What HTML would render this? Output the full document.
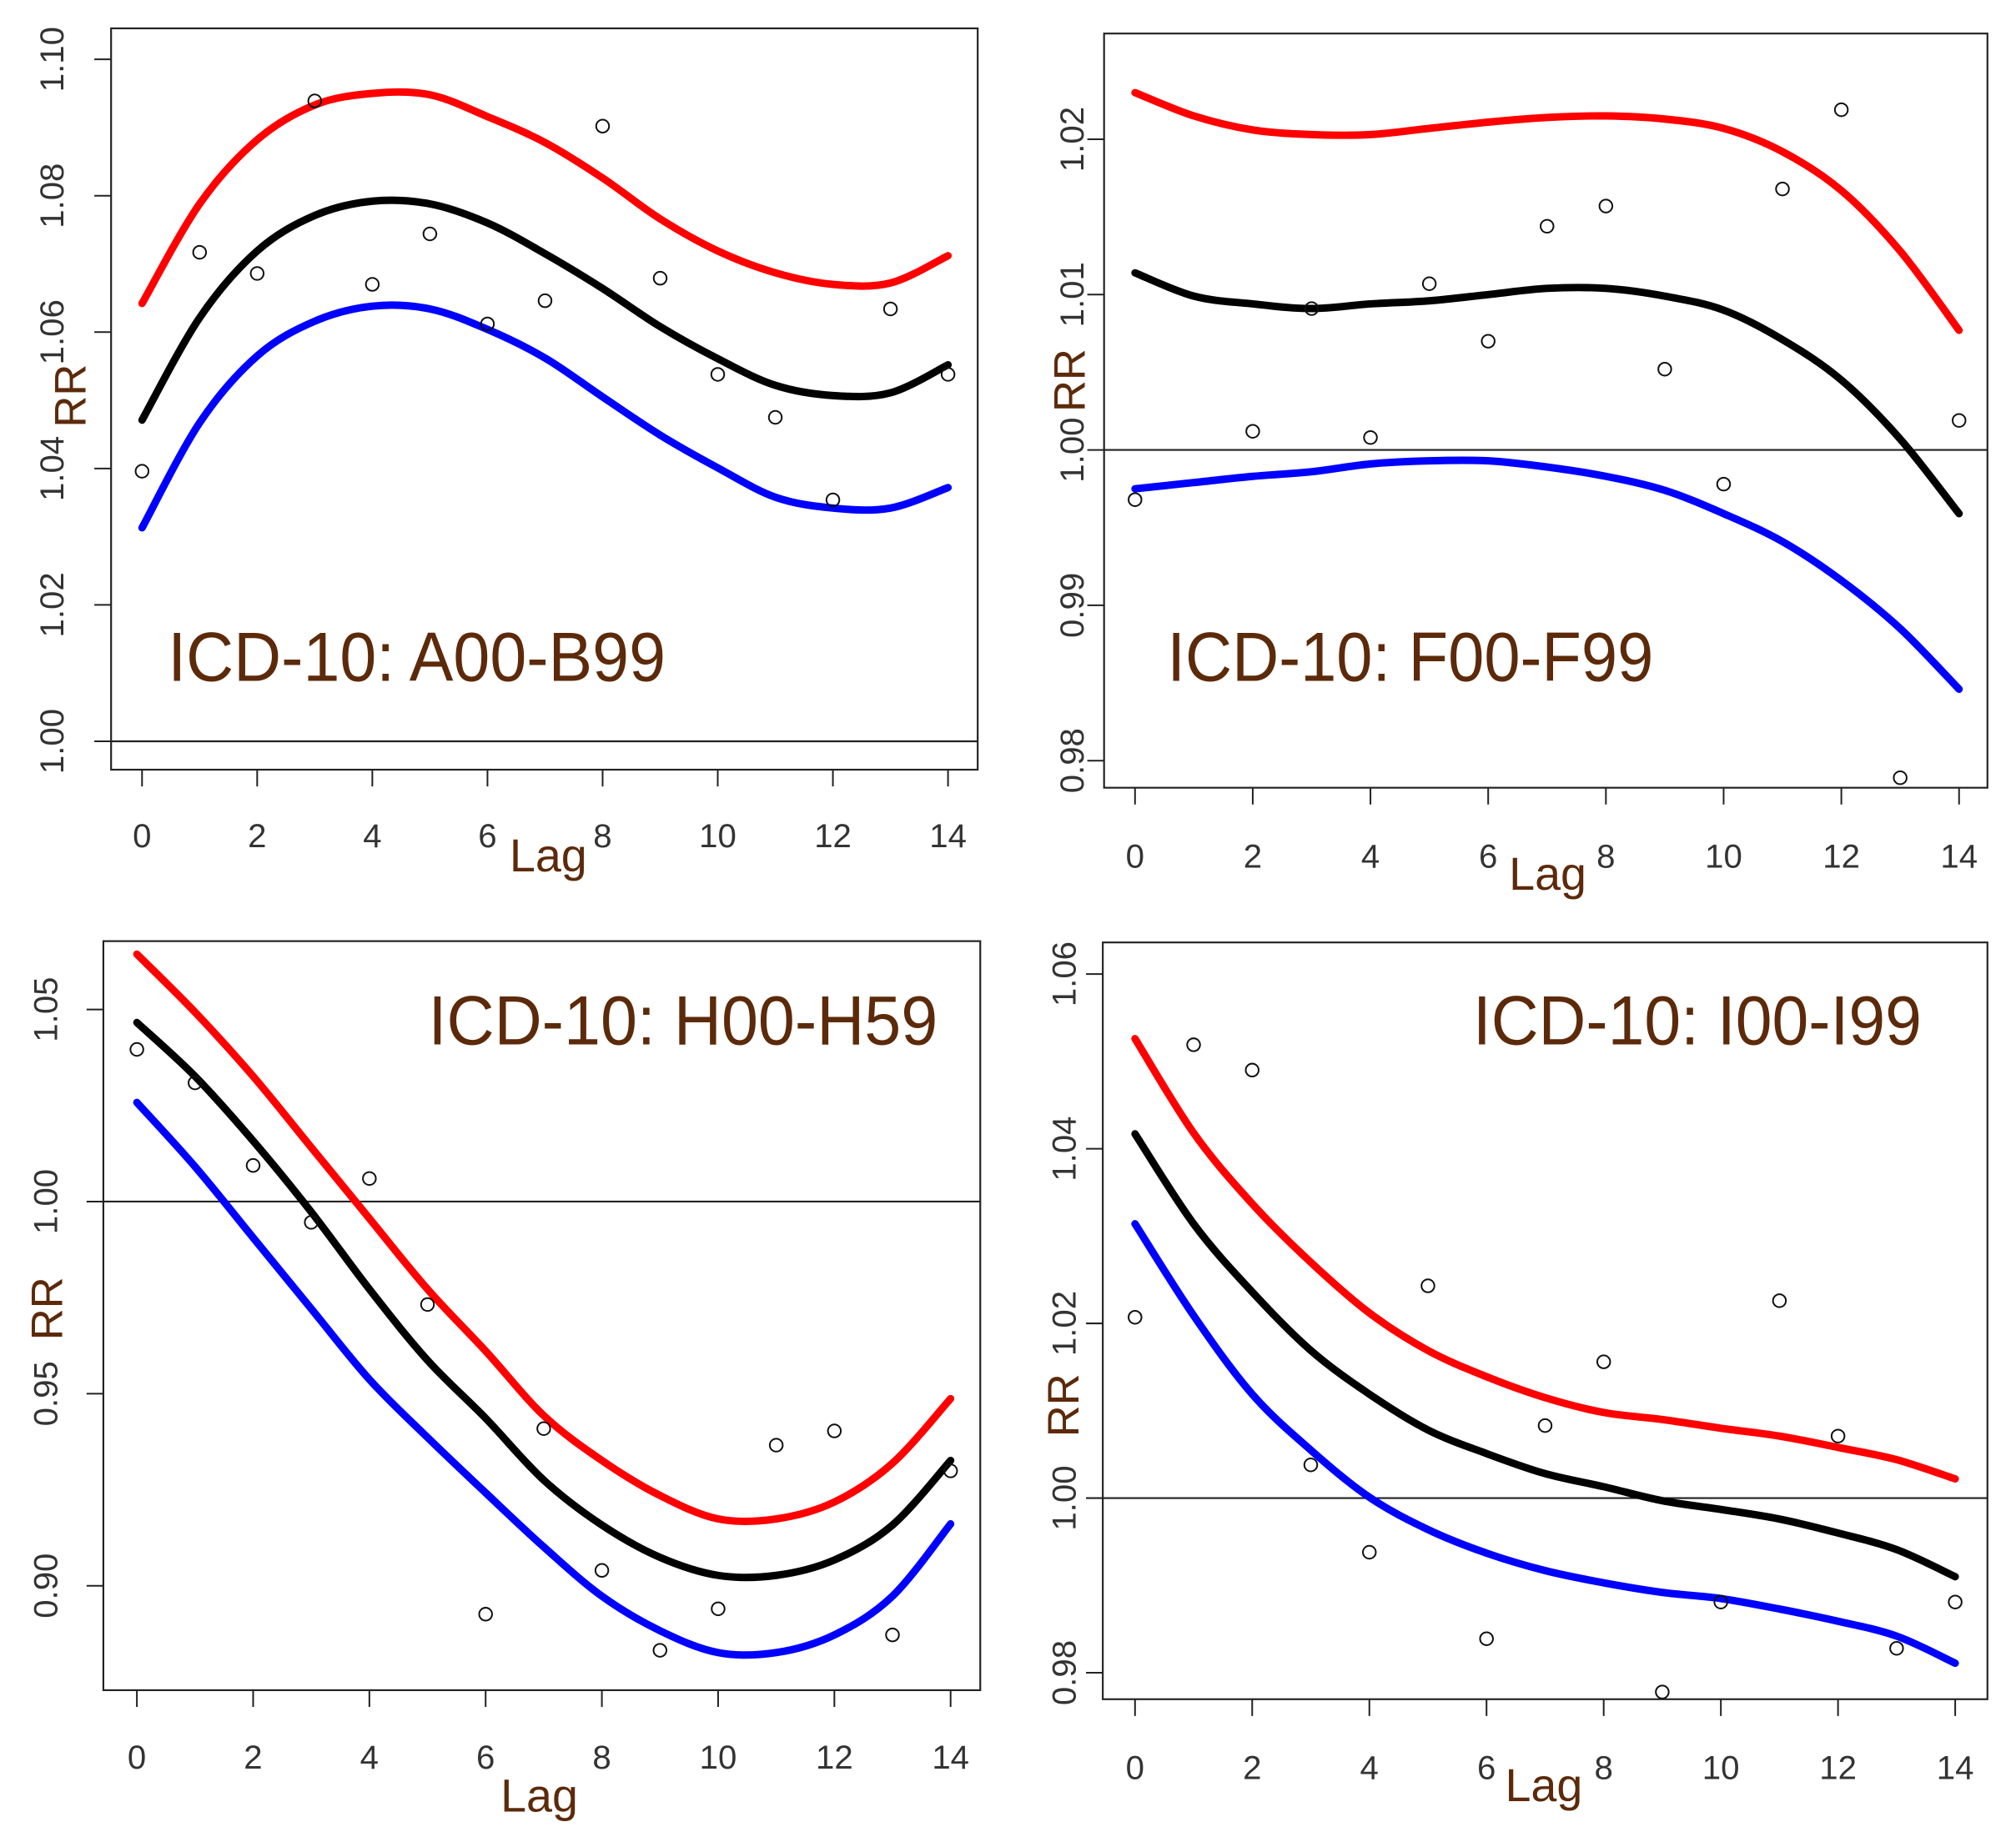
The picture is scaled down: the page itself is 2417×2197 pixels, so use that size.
<!DOCTYPE html>
<html><head><meta charset="utf-8"><style>
html,body{margin:0;padding:0;background:#fff;}
svg{display:block;}
</style></head>
<body>
<svg id="chart" width="2417" height="2197" viewBox="0 0 1563 1421" xmlns="http://www.w3.org/2000/svg"></svg>
<script>
const lags = [0,1,2,3,4,5,6,7,8,9,10,11,12,13,14];

const aTicks = [1.00,1.02,1.04,1.06,1.08,1.10];
const aRed = [1.0642,1.0788,1.0882,1.0933,1.0950,1.0948,1.0916,1.0878,1.0826,1.0766,1.0719,1.0687,1.0670,1.0672,1.0712];
const aBlack = [1.0471,1.0621,1.0719,1.0771,1.0792,1.0788,1.0760,1.0715,1.0664,1.0608,1.0561,1.0522,1.0507,1.0511,1.0552];
const aBlue = [1.0313,1.0467,1.0565,1.0616,1.0638,1.0634,1.0604,1.0562,1.0505,1.0449,1.0401,1.0358,1.0342,1.0342,1.0372];
const aPts = [1.0396,1.0717,1.0686,1.0939,1.0670,1.0744,1.0612,1.0646,1.0902,1.0679,1.0538,1.0475,1.0354,1.0634,1.0538];

const bTicks = [0.98,0.99,1.00,1.01,1.02];
const bRed = [1.0230,1.0215,1.0206,1.0203,1.0203,1.0207,1.0211,1.0214,1.0215,1.0213,1.0207,1.0192,1.0167,1.0128,1.0077];
const bBlack = [1.0114,1.0099,1.0094,1.0091,1.0094,1.0096,1.0100,1.0104,1.0104,1.0099,1.0090,1.0071,1.0045,1.0007,0.9959];
const bBlue = [0.9975,0.9979,0.9983,0.9986,0.9991,0.9993,0.9993,0.9989,0.9983,0.9974,0.9959,0.9941,0.9916,0.9885,0.9846];
const bPts = [0.9968,null,1.0012,1.0091,1.0008,1.0107,1.0070,1.0144,1.0157,1.0052,0.9978,1.0168,1.0219,0.9789,1.0019];

const cTicks = [0.90,0.95,1.00,1.05];
const cRed = [1.0644,1.0493,1.0326,1.0141,0.9956,0.9772,0.9611,0.9443,0.9326,0.9235,0.9174,0.9174,0.9218,0.9319,0.9487];
const cBlack = [1.0466,1.0326,1.0158,0.9973,0.9772,0.9587,0.9436,0.9275,0.9158,0.9074,0.9027,0.9027,0.9067,0.9158,0.9326];
const cBlue = [1.0258,1.0091,0.9906,0.9721,0.9537,0.9386,0.9242,0.9101,0.8973,0.8883,0.8826,0.8826,0.8872,0.8973,0.9161];
const cPts = [1.0396,1.0309,1.0094,0.9946,1.0060,0.9732,0.8926,0.9409,0.9040,0.8832,0.8940,0.9366,0.9403,0.8872,0.9299];

const dTicks = [0.98,1.00,1.02,1.04,1.06];
const dRed = [1.0526,1.0418,1.0337,1.0270,1.0212,1.0169,1.0139,1.0115,1.0098,1.0090,1.0080,1.0071,1.0058,1.0044,1.0022];
const dBlack = [1.0417,1.0314,1.0236,1.0169,1.0119,1.0078,1.0051,1.0028,1.0013,0.9997,0.9987,0.9976,0.9960,0.9941,0.9910];
const dBlue = [1.0314,1.0209,1.0119,1.0055,1.0001,0.9964,0.9937,0.9917,0.9903,0.9892,0.9885,0.9873,0.9859,0.9842,0.9811];
const dPts = [1.0207,1.0519,1.0490,1.0038,0.9938,1.0243,0.9839,1.0083,1.0156,0.9778,0.9881,1.0226,1.0071,0.9828,0.9881];

const xTickVals = [0,2,4,6,8,10,12,14];
const NS = 'http://www.w3.org/2000/svg';
const svg = document.getElementById('chart');

function mk(tag, attrs, parent){
  const e = document.createElementNS(NS, tag);
  for (const k in attrs) e.setAttribute(k, attrs[k]);
  (parent||svg).appendChild(e);
  return e;
}

function smoothPath(pts){
  let d = 'M' + pts[0][0].toFixed(2) + ',' + pts[0][1].toFixed(2);
  for (let i=0;i<pts.length-1;i++){
    const p0 = pts[Math.max(0,i-1)], p1 = pts[i], p2 = pts[i+1], p3 = pts[Math.min(pts.length-1,i+2)];
    const c1x = p1[0]+(p2[0]-p0[0])/6, c1y = p1[1]+(p2[1]-p0[1])/6;
    const c2x = p2[0]-(p3[0]-p1[0])/6, c2y = p2[1]-(p3[1]-p1[1])/6;
    d += ' C'+c1x.toFixed(2)+','+c1y.toFixed(2)+' '+c2x.toFixed(2)+','+c2y.toFixed(2)+' '+p2[0].toFixed(2)+','+p2[1].toFixed(2);
  }
  return d;
}

function panel(cfg){
  const g = mk('g', {});
  
  
  const xs = v => cfg.x0 + (v-0)/(14-0)*(cfg.x14-cfg.x0);
  const ys = v => cfg.yRef + (cfg.refVal - v)*cfg.pxPerUnit;

  const box = mk('rect', {x:cfg.bx1, y:cfg.by1, width:cfg.bx2-cfg.bx1, height:cfg.by2-cfg.by1, fill:'none', stroke:'#222', 'stroke-width':1.4}, g);
  
  

  const ref = mk('line', {x1:cfg.bx1, x2:cfg.bx2, y1:ys(1.0), y2:ys(1.0), stroke:'#222', 'stroke-width':1.4}, g);
  
  

  xTickVals.forEach(v=>{
    const t = mk('line', {x1:xs(v), x2:xs(v), y1:cfg.by2, y2:cfg.by2+13, stroke:'#222', 'stroke-width':1.3}, g);
    
    
    const l = mk('text', {x:xs(v), y:cfg.xLabY, 'text-anchor':'middle', 'font-size':26, fill:'#333', 'font-family':'Liberation Sans, sans-serif'}, g);
    l.textContent = String(v);
    
    
  });
  cfg.ticks.forEach(v=>{
    const y = ys(v);
    const t = mk('line', {x1:cfg.bx1-13, x2:cfg.bx1, y1:y, y2:y, stroke:'#222', 'stroke-width':1.3}, g);
    
    
    const l = mk('text', {x:0, y:0, 'text-anchor':'middle', 'font-size':26, fill:'#333', 'font-family':'Liberation Sans, sans-serif',
      transform:'translate('+(cfg.yLabX)+','+y+') rotate(-90)'}, g);
    l.textContent = v.toFixed(2);
    
    
  });

  const lag = mk('text', {x:cfg.lagX, y:cfg.lagY, 'text-anchor':'middle', 'font-size':36, fill:'#5c2a0a', 'font-family':'Liberation Sans, sans-serif'}, g);
  lag.textContent = 'Lag';
  
  
  const rr = mk('text', {x:0, y:0, 'text-anchor':'middle', 'font-size':34, fill:'#5c2a0a', 'font-family':'Liberation Sans, sans-serif',
    transform:'translate('+cfg.rrX+','+cfg.rrY+') rotate(-90)'}, g);
  rr.textContent = 'RR';
  
  

  const tt = mk('text', {x:cfg.tX, y:cfg.tY, 'font-size':54, fill:'#5c2a0a', 'font-family':'Liberation Sans, sans-serif', textLength:cfg.tW, lengthAdjust:'spacingAndGlyphs'}, g);
  tt.textContent = cfg.title;
  
  

  [[cfg.red,'#ff0000','upper-ci-line'],[cfg.black,'#000000','rr-estimate-line'],[cfg.blue,'#0000ff','lower-ci-line']].forEach(s=>{
    const pts = lags.map((l,i)=>[xs(l), ys(s[0][i])]);
    const p = mk('path', {d:smoothPath(pts), fill:'none', stroke:s[1], 'stroke-width':5.8, 'stroke-linejoin':'round', 'stroke-linecap':'round'}, g);
    
    
  });
  lags.forEach((l,i)=>{
    if (cfg.pts[i] === null) return;
    const c = mk('circle', {cx:xs(l), cy:ys(cfg.pts[i]), r:5, fill:'none', stroke:'#111', 'stroke-width':1.3}, g);
    
    
  });
}

panel({name:'panel-a00-b99', bx1:86, bx2:758, by1:22, by2:597, x0:110, x14:735, yRef:575, refVal:1.00, pxPerUnit:5290,
  ticks:aTicks, red:aRed, black:aBlack, blue:aBlue, pts:aPts, xLabY:657, yLabX:49, lagX:425, lagY:676, rrX:66, rrY:307,
  title:'ICD-10: A00-B99', tX:130, tY:528, tW:386});
panel({name:'panel-f00-f99', bx1:856, bx2:1541, by1:26, by2:611, x0:880, x14:1519, yRef:349, refVal:1.00, pxPerUnit:12050,
  ticks:bTicks, red:bRed, black:bBlack, blue:bBlue, pts:bPts, xLabY:673, yLabX:840, lagX:1200, lagY:690, rrX:841, rrY:295,
  title:'ICD-10: F00-F99', tX:905, tY:528, tW:377});
panel({name:'panel-h00-h59', bx1:80, bx2:760, by1:730, by2:1311, x0:106, x14:737, yRef:932, refVal:1.00, pxPerUnit:2980,
  ticks:cTicks, red:cRed, black:cBlack, blue:cBlue, pts:cPts, xLabY:1372, yLabX:44, lagX:418, lagY:1405, rrX:48, rrY:1015,
  title:'ICD-10: H00-H59', tX:332, tY:810, tW:395});
panel({name:'panel-i00-i99', bx1:855, bx2:1541, by1:731, by2:1318, x0:880, x14:1516, yRef:1162, refVal:1.00, pxPerUnit:6775,
  ticks:dTicks, red:dRed, black:dBlack, blue:dBlue, pts:dPts, xLabY:1380, yLabX:834, lagX:1197, lagY:1397, rrX:836, rrY:1090,
  title:'ICD-10: I00-I99', tX:1142, tY:810, tW:348});
</script>
</body></html>
